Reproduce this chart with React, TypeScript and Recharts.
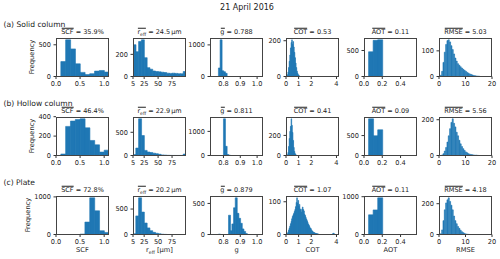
import React from 'react'
import { BarChart, Bar, XAxis, YAxis } from 'recharts'

const BLUE = '#1f77b4'
const FONT = '"DejaVu Sans", Verdana, sans-serif'

// histogram bins (centres) and counts

// SCF, bins 0.1 wide
const scfBins = [0.15, 0.25, 0.35, 0.45, 0.55, 0.65, 0.75, 0.85, 0.95, 1.05]
const scfSolid = [235, 578, 435, 200, 65, 30, 45, 85, 95, 70]
const scfHollow = [15, 300, 355, 370, 378, 285, 155, 110, 35, 55]
const scfPlate = [0, 0, 0, 0, 10, 330, 975, 630, 100, 55]

// r_eff, bins 5 um wide
const reffBins = [7.5, 12.5, 17.5, 22.5, 27.5, 32.5, 37.5, 42.5, 47.5, 52.5, 57.5, 62.5, 67.5, 72.5, 77.5, 82.5, 87.5, 92.5, 97.5]
const reffSolid = [287, 224, 316, 331, 170, 80, 66, 50, 45, 42, 39, 36, 30, 28, 30, 28, 25, 25, 45]
const reffHollow = [20, 160, 790, 430, 110, 75, 65, 50, 40, 25, 12, 8, 4, 2, 1, 1, 1, 1, 30]
const reffPlate = [15, 365, 720, 440, 225, 130, 75, 42, 25, 14, 5, 2, 0, 0, 0, 0, 0, 0, 0]

// asymmetry parameter g, bins 0.01 wide
const gBins = [0.765, 0.775, 0.785, 0.795, 0.805, 0.815, 0.825, 0.835, 0.845, 0.855, 0.865, 0.875, 0.885, 0.895, 0.905, 0.915, 0.925, 0.935]
const gSolid = [0, 270, 1160, 180, 150, 100, 0, 0, 0, 0, 0, 0, 0, 0, 0, 0, 0, 0]
const gHollow = [0, 0, 0, 0, 1520, 380, 40, 12, 0, 0, 0, 0, 0, 0, 0, 0, 0, 0]
const gPlate = [0, 6, 0, 0, 0, 0, 0, 310, 60, 170, 430, 590, 340, 260, 180, 90, 50, 15]

// COT, bins 0.05 wide
const cotSolidBins = [0.075, 0.125, 0.175, 0.225, 0.275, 0.325, 0.375, 0.425, 0.475, 0.525, 0.575, 0.625, 0.675, 0.725, 0.775, 0.825, 0.875, 0.925, 0.975, 1.025, 1.075]
const cotSolid = [3, 10, 25, 50, 85, 120, 160, 190, 205, 180, 195, 165, 135, 105, 75, 50, 30, 18, 10, 5, 2]
const cotHollowBins = [0.125, 0.175, 0.225, 0.275, 0.325, 0.375, 0.425, 0.475, 0.525, 0.575, 0.625, 0.675, 0.725, 0.775, 0.825]
const cotHollow = [8, 30, 90, 170, 240, 290, 365, 300, 230, 150, 80, 40, 18, 8, 3]
const cotPlateBins = [
  0.125, 0.175, 0.225, 0.275, 0.325, 0.375, 0.425, 0.475, 0.525, 0.575,
  0.625, 0.675, 0.725, 0.775, 0.825, 0.875, 0.925, 0.975, 1.025, 1.075,
  1.125, 1.175, 1.225, 1.275, 1.325, 1.375, 1.425, 1.475, 1.525, 1.575,
  1.625, 1.675, 1.725, 1.775, 1.825, 1.875, 1.925, 1.975, 2.025, 2.075,
  2.125, 2.175, 2.225, 2.275, 2.325, 2.375, 2.425, 2.475, 2.525, 2.575,
  3.725, 3.775, 3.825,
]
const cotPlate = [
  4, 8, 14, 20, 26, 33, 40, 48, 55, 60,
  64, 70, 76, 85, 98, 112, 96, 104, 86, 92,
  78, 74, 68, 78, 84, 76, 72, 62, 58, 52,
  47, 42, 37, 32, 28, 24, 20, 18, 14, 11,
  9, 7, 6, 5, 4, 3, 3, 2, 2, 1,
  3, 4, 2,
]

// AOT, bins 0.05 wide
const aotBins = [0.075, 0.125, 0.175]
const aotSolid = [475, 695, 705]
const aotHollow = [920, 495, 645]
const aotPlate = [520, 650, 970]

// RMSE, bins 0.5 wide
const rmseSolidBins = [0.75, 1.25, 1.75, 2.25, 2.75, 3.25, 3.75, 4.25, 4.75, 5.25, 5.75, 6.25, 6.75, 7.25, 7.75, 8.25, 8.75, 9.25, 9.75, 10.25, 10.75, 11.25, 11.75, 12.25, 12.75, 13.25, 13.75, 14.25, 14.75, 15.25]
const rmseSolid = [5, 20, 55, 95, 125, 140, 143, 135, 120, 105, 88, 72, 60, 50, 44, 38, 33, 28, 24, 20, 16, 13, 10, 8, 6, 4, 3, 2, 2, 1]
const rmseHollowBins = [1.25, 1.75, 2.25, 2.75, 3.25, 3.75, 4.25, 4.75, 5.25, 5.75, 6.25, 6.75, 7.25, 7.75, 8.25, 8.75, 9.25, 9.75, 10.25, 10.75, 11.25, 11.75, 12.25, 12.75, 13.25, 13.75, 14.25, 14.75]
const rmseHollow = [3, 10, 25, 45, 75, 110, 150, 185, 205, 180, 160, 130, 110, 85, 65, 50, 38, 28, 20, 15, 10, 7, 5, 4, 3, 2, 2, 1]
const rmsePlateBins = [0.75, 1.25, 1.75, 2.25, 2.75, 3.25, 3.75, 4.25, 4.75, 5.25, 5.75, 6.25, 6.75, 7.25, 7.75, 8.25, 8.75, 9.25, 9.75, 10.25, 10.75, 11.25]
const rmsePlate = [5, 30, 90, 160, 205, 225, 238, 215, 190, 160, 120, 90, 70, 52, 40, 28, 18, 12, 7, 4, 2, 1]

const rowLabels = ['(a) Solid column', '(b) Hollow column', '(c) Plate']
const scfMeans = ['35.9%', '46.4%', '72.8%']
const reffMeans = ['24.5', '22.9', '20.2']
const gMeans = ['0.788', '0.811', '0.879']
const cotMeans = ['0.53', '0.41', '1.07']
const aotMeans = ['0.11', '0.09', '0.11']
const rmseMeans = ['5.03', '5.56', '4.18']

// layout
const W = 53
const H = 38.5
const AX_W = 30
const AX_H = 14
const PAD_T = 5
const PAD_R = 8
const colLeft = [56, 133, 210, 286, 364, 439]
const rowTop = [38, 117, 196]

const tickStyle = { fontSize: 6.6, fill: '#222', fontFamily: FONT }
const fix1 = (v: number) => v.toFixed(1)
const plain = (v: number) => String(v)

// mean bar drawn as a top border so it also covers the subscript
const ol = (s: React.ReactNode) => (
  <span style={{ display: 'inline-block', borderTop: '0.7px solid #222', lineHeight: '7px', paddingTop: 0.5 }}>{s}</span>
)
const reffSym = (
  <span>
    r<span style={{ fontSize: 4.6, position: 'relative', top: 1.5 }}>eff</span>
  </span>
)

const columns = [
  {
    domain: [0, 1.1], ticks: [0, 0.5, 1.0], fmt: fix1, label: 'SCF',
    bins: [scfBins, scfBins, scfBins], counts: [scfSolid, scfHollow, scfPlate],
    yTicks: [[0, 500], [0, 200, 400], [0, 1000]],
    title: (i: number) => <>{ol('SCF')} = {scfMeans[i]}</>,
  },
  {
    domain: [5, 100], ticks: [5, 25, 50, 75], fmt: plain, label: <>{reffSym} [μm]</>,
    bins: [reffBins, reffBins, reffBins], counts: [reffSolid, reffHollow, reffPlate],
    yTicks: [[0, 200], [0, 500], [0, 500]],
    title: (i: number) => <>{ol(reffSym)} = {reffMeans[i]}<span style={{ marginLeft: 1 }}>μm</span></>,
  },
  {
    domain: [0.72, 1.035], ticks: [0.8, 0.9, 1.0], fmt: fix1, label: 'g',
    bins: [gBins, gBins, gBins], counts: [gSolid, gHollow, gPlate],
    yTicks: [[0, 1000], [0, 1000], [0, 500]],
    title: (i: number) => <>{ol('g')} = {gMeans[i]}</>,
  },
  {
    domain: [0, 4.2], ticks: [0, 1, 2, 4], fmt: plain, label: 'COT',
    bins: [cotSolidBins, cotHollowBins, cotPlateBins], counts: [cotSolid, cotHollow, cotPlate],
    yTicks: [[0, 200], [0, 200], [0, 100]],
    title: (i: number) => <>{ol('COT')} = {cotMeans[i]}</>,
  },
  {
    domain: [0, 0.58], ticks: [0, 0.2, 0.4], fmt: fix1, label: 'AOT',
    bins: [aotBins, aotBins, aotBins], counts: [aotSolid, aotHollow, aotPlate],
    yTicks: [[0, 500], [0, 500], [0, 1000]],
    title: (i: number) => <>{ol('AOT')} = {aotMeans[i]}</>,
  },
  {
    domain: [0, 20], ticks: [0, 10, 20], fmt: plain, label: 'RMSE',
    bins: [rmseSolidBins, rmseHollowBins, rmsePlateBins], counts: [rmseSolid, rmseHollow, rmsePlate],
    yTicks: [[0, 100], [0, 200], [0, 200]],
    title: (i: number) => <>{ol('RMSE')} = {rmseMeans[i]}</>,
  },
]

function Hist({ bins, counts, left, top, domain, ticks, fmt, yTicks }: any) {
  const data = bins.map((x: number, i: number) => ({ x, n: counts[i] }))
  const yMax = Math.max(...counts) * 1.05
  return (
    <div style={{ position: 'absolute', left: left - AX_W, top: top - PAD_T }}>
      <BarChart
        width={AX_W + W + PAD_R}
        height={PAD_T + H + AX_H}
        data={data}
        margin={{ top: PAD_T, right: PAD_R, bottom: 0, left: 0 }}
        barCategoryGap={0}
        barGap={0}
      >
        <XAxis
          dataKey="x"
          type="number"
          domain={domain}
          allowDataOverflow
          ticks={ticks}
          interval={0}
          tickFormatter={fmt}
          height={AX_H}
          tickSize={2.5}
          tickMargin={2.2}
          axisLine={false}
          tickLine={{ stroke: '#333' }}
          tick={tickStyle}
        />
        <YAxis
          type="number"
          domain={[0, yMax]}
          allowDataOverflow
          ticks={yTicks}
          interval={0}
          width={AX_W}
          tickSize={2.5}
          tickMargin={2.5}
          axisLine={false}
          tickLine={{ stroke: '#333' }}
          tick={tickStyle}
        />
        <Bar dataKey="n" fill={BLUE} stroke={BLUE} strokeWidth={0.6} isAnimationActive={false} />
      </BarChart>
      <div
        style={{
          position: 'absolute', left: AX_W, top: PAD_T, width: W, height: H,
          border: '1px solid #444', boxSizing: 'border-box', pointerEvents: 'none',
        }}
      />
    </div>
  )
}

export default function App() {
  return (
    <div style={{ position: 'absolute', left: 0, top: 0, width: 500, height: 259, background: '#fff', fontFamily: FONT, color: '#222' }}>
      <div style={{ position: 'absolute', left: 247, top: 7, transform: 'translate(-50%,-50%)', fontSize: 8, whiteSpace: 'nowrap' }}>
        21 April 2016
      </div>
      {rowLabels.map((lab, r) => (
        <React.Fragment key={lab}>
          <div style={{ position: 'absolute', left: 3.5, top: rowTop[r] - 14.5, transform: 'translateY(-50%)', fontSize: 7.6, whiteSpace: 'nowrap' }}>
            {lab}
          </div>
          <div style={{ position: 'absolute', left: r === 2 ? 28 : 32, top: rowTop[r] + H / 2, transform: 'translate(-50%,-50%) rotate(-90deg)', fontSize: 6.7, whiteSpace: 'nowrap' }}>
            Frequency
          </div>
          {columns.map((c, k) => (
            <React.Fragment key={k}>
              <div style={{ position: 'absolute', left: colLeft[k] + W / 2, top: rowTop[r] - 6.5, transform: 'translate(-50%,-50%)', fontSize: 6.5, whiteSpace: 'nowrap', lineHeight: '8px' }}>
                {c.title(r)}
              </div>
              <Hist
                bins={c.bins[r]}
                counts={c.counts[r]}
                left={colLeft[k]}
                top={rowTop[r]}
                domain={c.domain}
                ticks={c.ticks}
                fmt={c.fmt}
                yTicks={c.yTicks[r]}
              />
              {r === 2 && (
                <div style={{ position: 'absolute', left: colLeft[k] + W / 2, top: rowTop[r] + H + 15.5, transform: 'translate(-50%,-50%)', fontSize: 6.7, whiteSpace: 'nowrap' }}>
                  {c.label}
                </div>
              )}
            </React.Fragment>
          ))}
        </React.Fragment>
      ))}
    </div>
  )
}
